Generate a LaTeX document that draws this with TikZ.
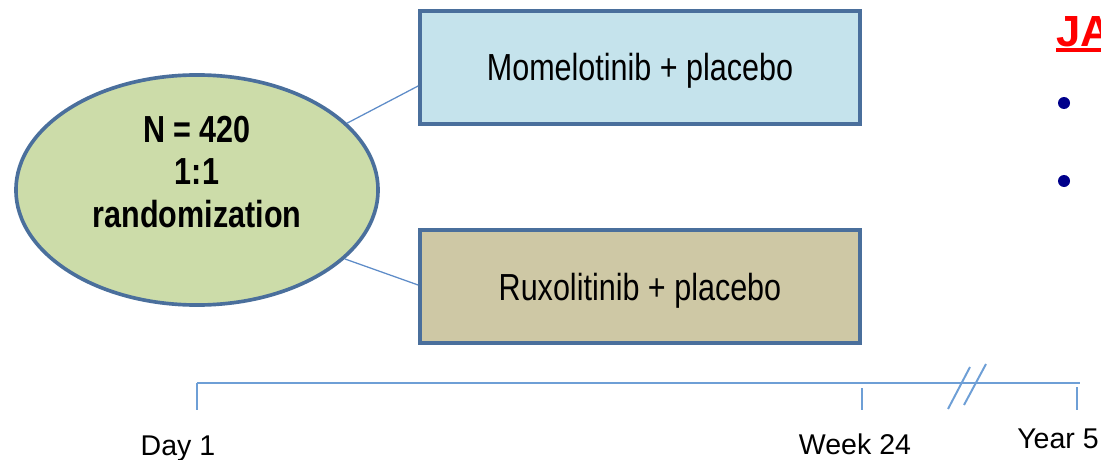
\documentclass[tikz,border=0pt]{standalone}
\usepackage{fontspec}
\setmainfont{Liberation Sans}
\newfontfamily\narrowfont[FakeStretch=0.81]{Liberation Sans}
\usetikzlibrary{shapes.geometric,positioning,calc}
\definecolor{frameB}{HTML}{4A6F9C}
\definecolor{linkB}{HTML}{5E8CC8}
\definecolor{axisB}{HTML}{6E9FD6}
\definecolor{ellG}{HTML}{CCDCA9}
\definecolor{armA}{HTML}{C5E3EC}
\definecolor{armB}{HTML}{CEC8A5}
\definecolor{bulletN}{HTML}{00008B}
\tikzset{
  arm/.style={rectangle, draw=frameB, line width=2.6pt, fill=#1,
              minimum width=11cm, minimum height=2.825cm,
              font=\narrowfont\fontsize{26.8pt}{30pt}\selectfont,
              text height=19.2pt, text depth=0pt},
  link/.style={draw=linkB, line width=0.9pt},
  axis/.style={draw=axisB, line width=1.4pt},
  when/.style={font=\fontsize{20.3pt}{24pt}\selectfont, text height=14.5pt, text depth=0pt},
}

\begin{document}
\begin{tikzpicture}[x=0.025cm, y=-0.025cm]
\useasboundingbox (0,0) rectangle (1101,460);
\node[ellipse, draw=frameB, line width=2.6pt, fill=ellG, minimum width=9.05cm, minimum height=5.75cm,
      label={[font=\narrowfont\bfseries\fontsize{26.8pt}{30.2pt}\selectfont, align=center, yshift=0.45cm]center:{N = 420\\1:1\\randomization}}] (rand) at (197,190) {};
\node[arm=armA] (momel) at (640,67.5) {Momelotinib + placebo};
\node[arm=armB] (ruxo) at (640,286.5) {Ruxolitinib + placebo};
\draw[link] (rand.24.7) -- ($(momel.west)+(0,18.5)$);
\draw[link] (rand.-25) -- ($(ruxo.west)+(0,-1.5)$);
% timeline
\coordinate (t0) at (197,383);
\coordinate (t24) at (862,383);
\coordinate (t5) at (1077,383);
\coordinate (tend) at (1080,383);
\draw[axis] (t0) -- (tend);
\draw[axis] (t0) -- ++(0,27);
\draw[axis] ([yshift=-0.125cm]t24) -- ++(0,22);
\draw[axis] ([yshift=-0.1cm]t5) -- ++(0,23);
\draw[axis] (948,409) -- (970,367);
\draw[axis] (964,405) -- (986,364);
\node[when] (day1) at (178,445) {Day 1};
\node[when] (wk24) at (855,444.5) {Week 24};
\node[when] (yr5) at (1058,438) {Year 5};
% cut-off side panel
\node[anchor=west, inner sep=0pt, text=red, font=\bfseries\fontsize{31pt}{34pt}\selectfont] (ja) at (1056,32) {JA};
\draw[red, line width=2.2pt] (1056,50) -- (1101,50);
\fill[bulletN] (1064,103) circle (6);
\fill[bulletN] (1064,181) circle (6);
\end{tikzpicture}
\end{document}
